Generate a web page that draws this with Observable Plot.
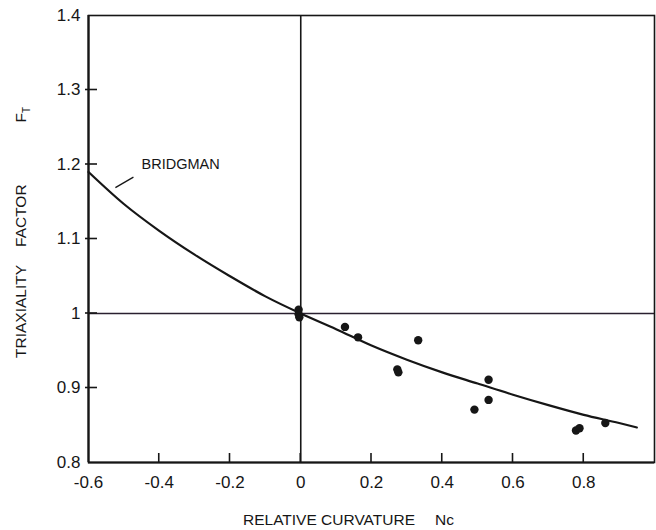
<!DOCTYPE html>
<html>
<head>
<meta charset="utf-8">
<script src="https://cdn.jsdelivr.net/npm/d3@7"></script>
<script src="https://cdn.jsdelivr.net/npm/@observablehq/plot@0.6"></script>
<style>
  body { margin: 0; background: #fff; }
  #chart svg { display: block; }
</style>
</head>
<body>
<div id="chart"></div>
<script>
// Bridgman correction curve: triaxiality factor vs relative curvature
const curveNc = [-0.6, -0.5, -0.4, -0.3, -0.2, -0.1, 0, 0.1, 0.2, 0.3, 0.4, 0.5, 0.6, 0.7, 0.8, 0.9, 0.95];
const curveFt = [1.190, 1.147, 1.111, 1.079, 1.050, 1.023, 1.0, 0.979, 0.957, 0.938, 0.921, 0.906, 0.891, 0.877, 0.864, 0.853, 0.847];

// Measured specimens
const pointNc = [-0.006, -0.006, -0.004, 0.125, 0.162, 0.273, 0.276, 0.332, 0.491, 0.531, 0.531, 0.778, 0.788, 0.861];
const pointFt = [1.005, 0.999, 0.995, 0.982, 0.968, 0.925, 0.921, 0.964, 0.871, 0.911, 0.884, 0.843, 0.846, 0.853];

// Axis ticks and reference lines
const xTicks = [-0.6, -0.4, -0.2, 0, 0.2, 0.4, 0.6, 0.8];
const yTicks = [0.8, 0.9, 1, 1.1, 1.2, 1.3, 1.4];
const refNc = [0];
const refFt = [1];

// Curve annotation
const curveName = ["BRIDGMAN"];
const curveNameAt = [-0.45, 1.194];
const leaderNc = [-0.524, -0.473];
const leaderFt = [1.169, 1.183];

const curve = curveNc.map((x, i) => ({x, y: curveFt[i]}));
const points = pointNc.map((x, i) => ({x, y: pointFt[i]}));
const ink = "#161616";
const font = "'Liberation Sans', Arial, Helvetica, sans-serif";
const plain = d => String(d);

const xDomain = [-0.6, 1.0];
const yDomain = [0.8, 1.4];

const chart = Plot.plot({
  width: 656,
  height: 530,
  marginLeft: 88,
  marginRight: 2,
  marginTop: 15,
  marginBottom: 68,
  style: {fontFamily: font, background: "#fff", color: ink},
  x: {domain: xDomain},
  y: {domain: yDomain},
  marks: [
    Plot.ruleX(refNc, {stroke: ink, strokeWidth: 1.6}),
    Plot.ruleY(refFt, {stroke: "#2a2030", strokeWidth: 1.4}),
    Plot.frame({stroke: ink, strokeWidth: 1.6}),
    Plot.ruleX([xDomain[0]], {stroke: ink, strokeWidth: 2.2}),
    Plot.ruleY([yDomain[0]], {stroke: ink, strokeWidth: 2.2}),
    // tick labels
    Plot.axisX(xTicks, {tickSize: 0, tickPadding: 13, label: null, fontSize: 17, fill: ink, tickFormat: plain}),
    Plot.axisY(yTicks, {tickSize: 0, tickPadding: 8, label: null, fontSize: 17, fill: ink, tickFormat: plain}),
    Plot.line(curve, {x: "x", y: "y", curve: "monotone-x", stroke: ink, strokeWidth: 2.2}),
    Plot.dot(points, {x: "x", y: "y", r: 4.2, fill: ink, stroke: "none"}),
    Plot.link([0], {x1: () => leaderNc[0], y1: () => leaderFt[0], x2: () => leaderNc[1], y2: () => leaderFt[1], stroke: ink, strokeWidth: 1.3}),
    Plot.text(curveName, {x: () => curveNameAt[0], y: () => curveNameAt[1], text: d => d, textAnchor: "start", lineAnchor: "bottom", fontSize: 14.5, fill: ink})
  ]
});

const svg = d3.select(chart);
const sx = chart.scale("x");
const sy = chart.scale("y");

// short tick marks, mostly pointing into the plot, placed with the chart's scales
const tickGroup = svg.append("g").attr("stroke", ink).attr("stroke-width", 1.6);
tickGroup.selectAll(".xt").data(xTicks.slice(1)).join("line")
  .attr("x1", d => sx.apply(d)).attr("x2", d => sx.apply(d))
  .attr("y1", sy.apply(yDomain[0])).attr("y2", sy.apply(yDomain[0]) - 9);
tickGroup.selectAll(".yt").data(yTicks.slice(1, -1)).join("line")
  .attr("y1", d => sy.apply(d)).attr("y2", d => sy.apply(d))
  .attr("x1", sx.apply(xDomain[0]) - 3).attr("x2", sx.apply(xDomain[0]) + 9);

// x-axis title
const xTitle = svg.append("text")
  .attr("x", 243).attr("y", 525)
  .attr("text-anchor", "start")
  .style("font-family", font).style("font-size", "15.5px").attr("fill", ink);
xTitle.append("tspan").text("RELATIVE CURVATURE");
xTitle.append("tspan").attr("dx", 20).text("Nc");

// y-axis title with subscript T
const yTitle = svg.append("text")
  .attr("transform", "translate(26,358) rotate(-90)")
  .attr("text-anchor", "start")
  .style("font-family", font).style("font-size", "15.5px").attr("fill", ink);
yTitle.append("tspan").text("TRIAXIALITY");
yTitle.append("tspan").attr("dx", 18).text("FACTOR");
yTitle.append("tspan").attr("dx", 62).text("F");
yTitle.append("tspan").attr("dy", 4).style("font-size", "10px").text("T");

document.getElementById("chart").append(chart);
</script>
</body>
</html>
